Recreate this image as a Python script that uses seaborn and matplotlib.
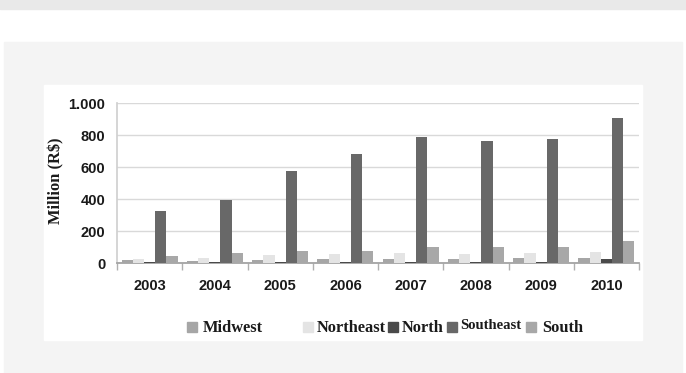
import numpy as np
import pandas as pd
import seaborn as sns
import matplotlib.pyplot as plt
from matplotlib.patches import Rectangle
from matplotlib.ticker import FuncFormatter

# values (million R$)
years = ['2003', '2004', '2005', '2006', '2007', '2008', '2009', '2010']
regions = ['Midwest', 'Northeast', 'North', 'Southeast', 'South']
midwest = [21, 14, 21, 29, 29, 29, 35, 35]
northeast = [27, 33, 52, 58, 62, 57, 62, 73]
north = [8, 8, 8, 8, 8, 8, 8, 27]
southeast = [329, 396, 579, 683, 791, 764, 775, 906]
south = [48, 62, 77, 77, 100, 102, 100, 137]
colors = ['#a6a6a6', '#e4e4e4', '#4a4a4a', '#686868', '#a8a8a8']

df = pd.DataFrame({
    'year': years * 5,
    'region': np.repeat(regions, len(years)),
    'value': midwest + northeast + north + southeast + south,
})

sns.set_theme(style='white')
plt.rcParams['font.family'] = ['Liberation Sans', 'DejaVu Sans']

W, H = 686, 373
fig = plt.figure(figsize=(W / 100, H / 100), dpi=100)

# page background pieces
fig.patches.append(Rectangle((0, 1 - 9 / H), 1, 9 / H, transform=fig.transFigure,
                             color='#e9e9e9', zorder=-3))
fig.patches.append(Rectangle((4 / W, 0), 678 / W, 1 - 42 / H, transform=fig.transFigure,
                             color='#f4f4f4', zorder=-2))
fig.patches.append(Rectangle((44 / W, 1 - 340 / H), 598 / W, 255 / H, transform=fig.transFigure,
                             color='white', zorder=-1))

ax = fig.add_axes([117 / W, 1 - 263.3 / H, 522 / W, 160 / H])
ax.patch.set_alpha(0)

sns.barplot(data=df, x='year', y='value', hue='region', hue_order=regions,
            palette=colors, saturation=1, width=0.86, linewidth=0, ax=ax,
            legend=False, zorder=3)

ax.set_xlim(-0.5, len(years) - 0.5)
ax.set_ylim(0, 1000)
ax.set_yticks(range(0, 1001, 200))
ax.yaxis.set_major_formatter(FuncFormatter(lambda v, p: f'{int(v):,}'.replace(',', '.')))
ax.grid(axis='y', color='#d9d9d9', linewidth=1, zorder=0)
ax.set_axisbelow(True)

for s in ['top', 'right']:
    ax.spines[s].set_visible(False)
ax.spines['left'].set_color('#d0d0d0')
ax.spines['bottom'].set_color('#a0a0a0')

ax.set_xticks(np.arange(-0.5, len(years), 1), minor=True)
ax.tick_params(axis='x', which='minor', length=5, color='#b0b0b0', direction='out', bottom=True)
ax.tick_params(axis='x', which='major', length=0, pad=11, labelsize=10.5)
ax.tick_params(axis='y', length=0, pad=8.5, labelsize=10.5)
for lab in ax.get_xticklabels() + ax.get_yticklabels():
    lab.set_fontweight('bold')
    lab.set_color('#1a1a1a')

ax.set_xlabel('')
ax.set_ylabel('Million (R$)', family='Liberation Serif', fontweight='bold',
              fontsize=11.8, color='#1a1a1a')
ax.yaxis.set_label_coords(-0.1015, 0.514)

# hand-placed legend, spacing follows the original
leg_sq = [187, 303, 388, 447, 526]
leg_tx = [203, 317, 402, 460, 542]
leg_fs = [11.8, 11.8, 11.8, 10.5, 11.8]
leg_y = [327.5, 327.5, 327.5, 325.5, 327.5]
for name, c, sx, tx, fs, ly in zip(regions, colors, leg_sq, leg_tx, leg_fs, leg_y):
    fig.patches.append(Rectangle((sx / W, 1 - 332 / H), 10 / W, 10 / H,
                                 transform=fig.transFigure, color=c))
    fig.text(tx / W, 1 - ly / H, name, family='Liberation Serif', fontweight='bold',
             fontsize=fs, color='#1a1a1a', ha='left', va='center')

fig.savefig('out.png', dpi=100)
